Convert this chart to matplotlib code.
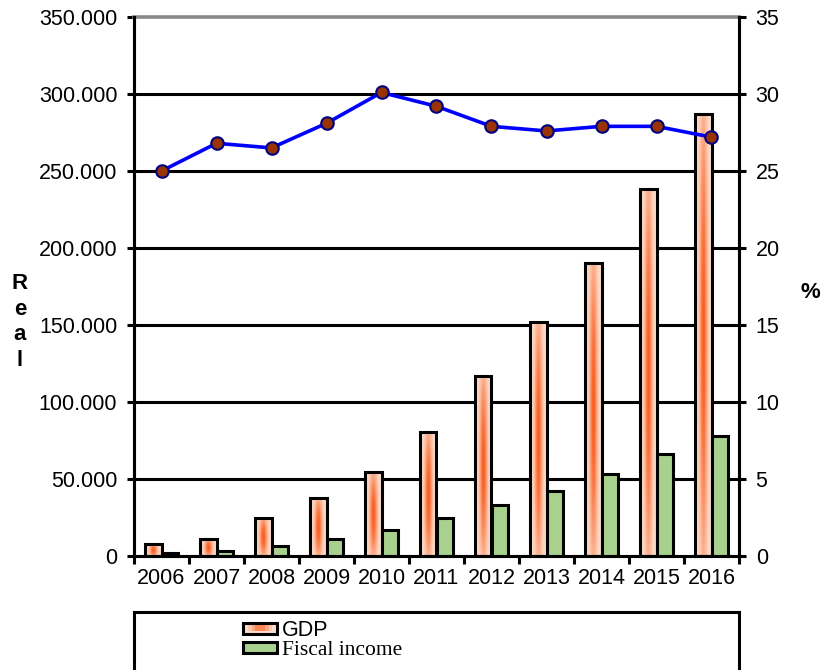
import numpy as np
import matplotlib
matplotlib.use("Agg")
import matplotlib.pyplot as plt
from matplotlib.patches import Rectangle, Patch
from matplotlib.legend_handler import HandlerBase

# ---------------------------------------------------------
# Data
# ---------------------------------------------------------
years = ['2006', '2007', '2008', '2009', '2010', '2011',
         '2012', '2013', '2014', '2015', '2016']
gdp = [7500, 11000, 25000, 37500, 54500, 80500,
       117000, 152000, 190500, 238500, 287000]
fiscal_income = [2000, 3000, 6500, 11000, 17000, 24500,
                 33000, 42500, 53500, 66000, 78000]
ratio_pct = [25.0, 26.8, 26.5, 28.1, 30.1, 29.2,
             27.9, 27.6, 27.9, 27.9, 27.2]

left_ticks = [0, 50000, 100000, 150000, 200000, 250000, 300000, 350000]
right_ticks = [0, 5, 10, 15, 20, 25, 30, 35]

# ---------------------------------------------------------
# Style
# ---------------------------------------------------------
plt.rcParams['font.family'] = ['Liberation Sans', 'DejaVu Sans']
FS = 15.5
LW = 2.2
peach = np.array([253, 222, 204]) / 255.0
orange = np.array([250, 92, 30]) / 255.0
green = '#a9d18e'


def fmt_thousands(v):
    return '0' if v == 0 else f'{v:,.0f}'.replace(',', '.')


def gradient_image(ny=60, nx=40):
    x = np.linspace(0, 1, nx)
    y = np.linspace(0, 1, ny)
    X, Y = np.meshgrid(x, y)
    w = np.exp(-((X - 0.5) / 0.22) ** 2) * (0.35 + 0.65 * np.sin(np.pi * Y))
    return peach + (orange - peach) * w[..., None]


class GradientHandler(HandlerBase):
    def create_artists(self, legend, orig, xd, yd, width, height, fontsize, trans):
        arts = [Rectangle((-xd, -yd), width, height, facecolor=peach,
                          edgecolor='black', lw=LW, transform=trans)]
        for k, frac in enumerate([0.7, 0.5, 0.3]):
            a = 0.35 + 0.25 * k
            arts.append(Rectangle((-xd + width * (1 - frac) / 2, -yd + height * 0.2),
                                  width * frac, height * 0.6, facecolor=orange,
                                  alpha=a * 0.5, lw=0, transform=trans))
        return arts


# ---------------------------------------------------------
# Figure
# ---------------------------------------------------------
fig = plt.figure(figsize=(8.24, 6.70), dpi=100)
ax = fig.add_axes([134 / 824, 1 - 556 / 670, 605 / 824, 539 / 670])
ax2 = ax.twinx()

x = np.arange(len(years))
bw = 0.3
img = gradient_image()

gdp_bars = ax.bar(x - bw / 2, gdp, width=bw, facecolor='none',
                  edgecolor='black', linewidth=LW, zorder=3)
for b in gdp_bars:
    im = ax.imshow(img, extent=[b.get_x(), b.get_x() + b.get_width(), 0, b.get_height()],
                   origin='lower', aspect='auto', zorder=2.5, interpolation='bilinear')
    im.set_clip_path(b)
ax.bar(x + bw / 2, fiscal_income, width=bw, color=green,
       edgecolor='black', linewidth=LW, zorder=3)

ax.set_xlim(-0.5, len(years) - 0.5)
ax.set_ylim(0, 350000)
ax.set_yticks(left_ticks)
ax.set_yticklabels([fmt_thousands(v) for v in left_ticks], fontsize=FS)

# x ticks: marks at category boundaries, labels at centres
ax.set_xticks(np.arange(len(years) + 1) - 0.5)
ax.set_xticklabels([])
ax.set_xticks(x, minor=True)
ax.set_xticklabels(years, minor=True, fontsize=FS)
ax.tick_params(axis='x', which='major', length=6, width=LW, direction='out')
ax.tick_params(axis='x', which='minor', length=0, pad=9)
ax.tick_params(axis='y', length=5, width=LW, pad=7)

# grid lines
for t in left_ticks[1:-1]:
    ax.axhline(t, color='black', lw=LW, zorder=1)
ax.set_axisbelow(True)

for s in ['left', 'right', 'bottom']:
    ax.spines[s].set_linewidth(LW)
ax.spines['top'].set_color('#888888')
ax.spines['top'].set_linewidth(LW + 0.4)

# line on secondary axis
ax2.plot(x, ratio_pct, color='#0000ff', lw=2.6, marker='o', markersize=9,
         markerfacecolor='#993300', markeredgecolor='#000080', markeredgewidth=1.5,
         zorder=5)
ax2.set_ylim(0, 35)
ax2.set_yticks(right_ticks)
ax2.set_yticklabels([str(v) for v in right_ticks], fontsize=FS)
ax2.tick_params(axis='y', length=5, width=LW, pad=7)
for s in ['left', 'right', 'bottom']:
    ax2.spines[s].set_linewidth(LW)
ax2.spines['top'].set_visible(False)

# axis titles
fig.text(20 / 824, 1 - 322 / 670, 'R\ne\na\nl', ha='center', va='center',
         fontsize=16, fontweight='bold', linespacing=1.3)
fig.text(810 / 824, 1 - 293 / 670, '%', ha='center', va='center',
         fontsize=16, fontweight='bold')

# legend box (runs off the bottom of the figure)
fig.add_artist(Rectangle((134 / 824, -0.05), 605 / 824, 0.05 + 1 - 612 / 670,
                         transform=fig.transFigure, fill=False, edgecolor='black',
                         lw=LW, clip_on=False))
h_gdp = Patch(label='GDP')
h_fis = Patch(facecolor=green, edgecolor='black', lw=LW, label='Fiscal income')
leg = fig.legend(handles=[h_gdp, h_fis], loc='upper left',
                 bbox_to_anchor=(243 / 824, 1 - 620 / 670), frameon=False,
                 fontsize=FS, borderpad=0, borderaxespad=0, handlelength=1.6,
                 handleheight=0.38, handletextpad=0.2, labelspacing=0.02,
                 handler_map={h_gdp: GradientHandler()})
leg.get_texts()[1].set_family('Liberation Serif')

fig.savefig('out.png', dpi=100)
